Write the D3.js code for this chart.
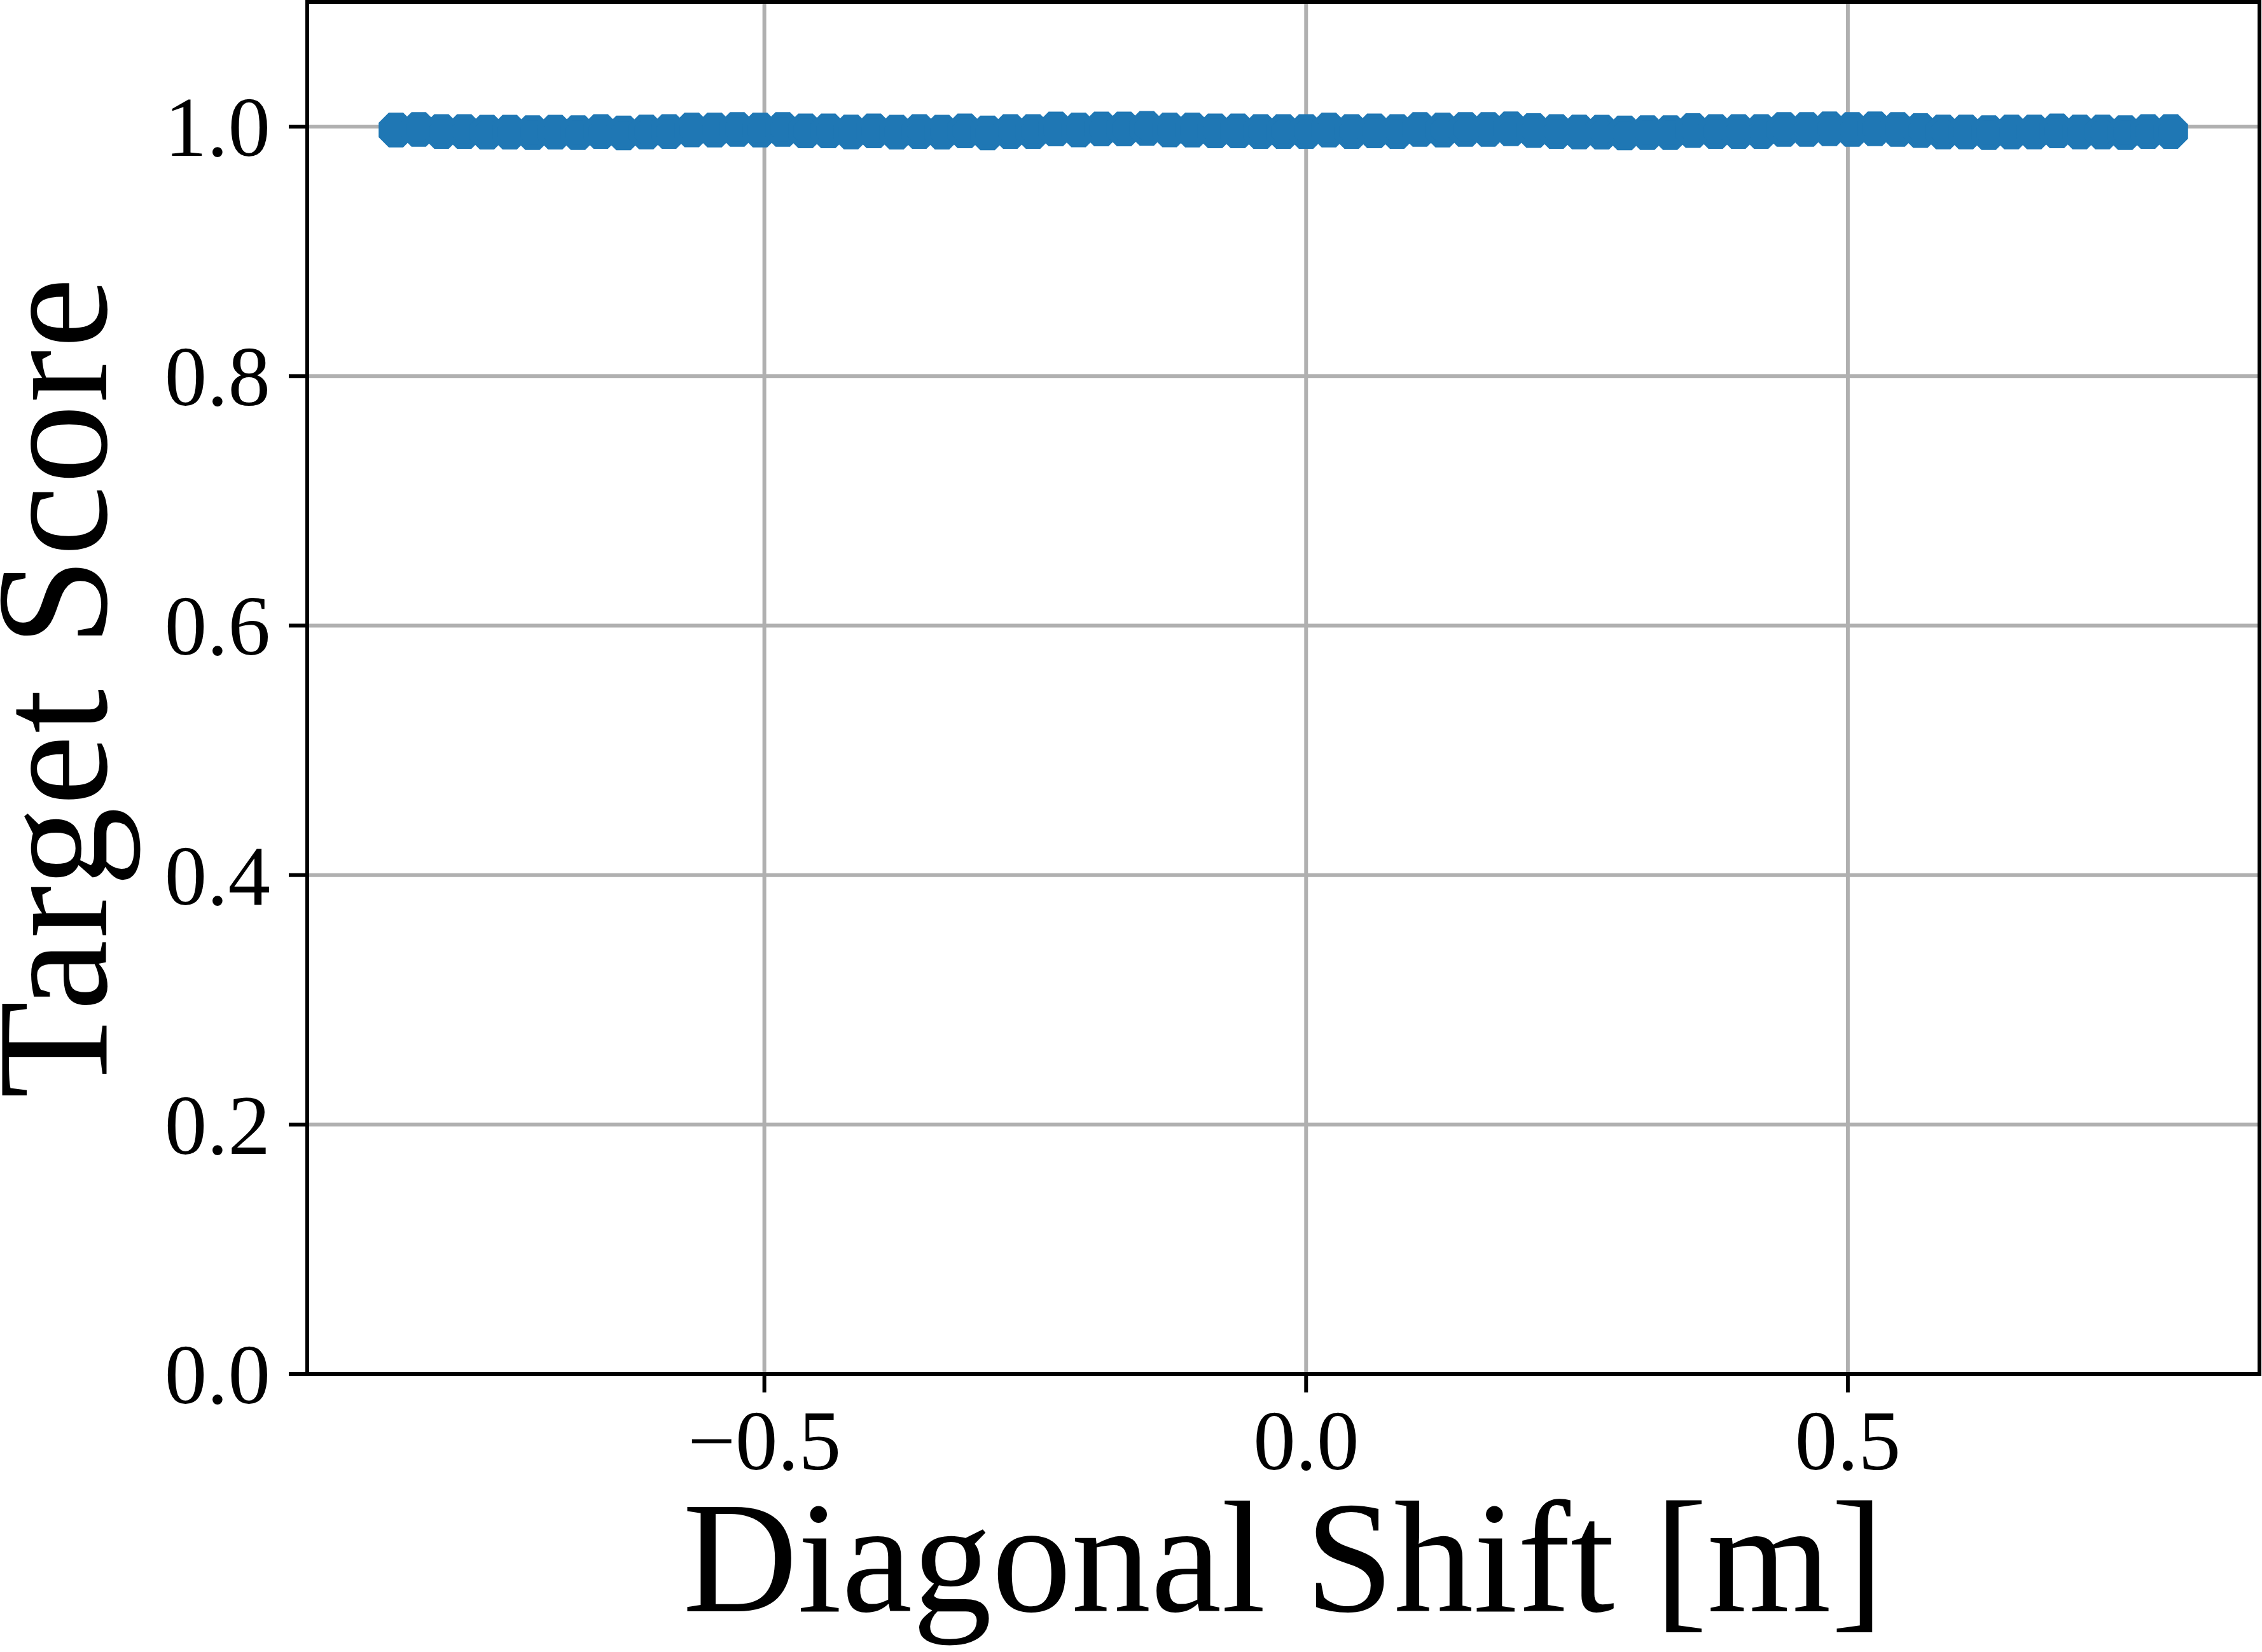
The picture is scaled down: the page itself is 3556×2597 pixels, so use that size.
<!DOCTYPE html>
<html lang="en">
<head>
    <meta charset="UTF-8">
    <title>Target Score vs Diagonal Shift</title>
    <script src="https://d3js.org/d3.v7.min.js"></script>
    <style>
    body { margin: 0; background: #fff; }
    text { font-family: "Liberation Serif", "DejaVu Serif", serif; fill: #000; }
    .grid line { stroke: #b0b0b0; stroke-width: 6px; }
    .spine { fill: none; stroke: #000; stroke-width: 6px; }
    .tick-mark { stroke: #000; stroke-width: 6px; }
  </style>
</head>
<body>
<div id="chart"></div>
<script>
// diagonal shift [m]
const shifts = [
  -0.840, -0.819, -0.798, -0.777, -0.756, -0.735, -0.714, -0.693, -0.672, -0.651,
  -0.630, -0.609, -0.588, -0.567, -0.546, -0.525, -0.504, -0.483, -0.462, -0.441,
  -0.420, -0.399, -0.378, -0.357, -0.336, -0.315, -0.294, -0.273, -0.252, -0.231,
  -0.210, -0.189, -0.168, -0.147, -0.126, -0.105, -0.084, -0.063, -0.042, -0.021,
   0.000,  0.021,  0.042,  0.063,  0.084,  0.105,  0.126,  0.147,  0.168,  0.189,
   0.210,  0.231,  0.252,  0.273,  0.294,  0.315,  0.336,  0.357,  0.378,  0.399,
   0.420,  0.441,  0.462,  0.483,  0.504,  0.525,  0.546,  0.567,  0.588,  0.609,
   0.630,  0.651,  0.672,  0.693,  0.714,  0.735,  0.756,  0.777,  0.798
];

// target score at each shift
const scores = [
  0.9973, 0.9978, 0.9961, 0.9961, 0.9956, 0.9956, 0.9952, 0.9956, 0.9952, 0.9961,
  0.9949, 0.9957, 0.9961, 0.9974, 0.9973, 0.9978, 0.9973, 0.9978, 0.9966, 0.9966,
  0.9957, 0.9966, 0.9956, 0.9961, 0.9956, 0.9966, 0.9950, 0.9961, 0.9961, 0.9981,
  0.9974, 0.9981, 0.9981, 0.9986, 0.9974, 0.9973, 0.9966, 0.9966, 0.9961, 0.9961,
  0.9961, 0.9973, 0.9961, 0.9966, 0.9961, 0.9978, 0.9973, 0.9978, 0.9978, 0.9983,
  0.9969, 0.9961, 0.9957, 0.9956, 0.9949, 0.9952, 0.9952, 0.9969, 0.9961, 0.9961,
  0.9961, 0.9978, 0.9978, 0.9983, 0.9978, 0.9983, 0.9978, 0.9969, 0.9957, 0.9957,
  0.9952, 0.9957, 0.9957, 0.9966, 0.9957, 0.9957, 0.9952, 0.9961, 0.9961
];

const xTicks = [-0.5, 0.0, 0.5];
const xTickLabels = ["\u22120.5", "0.0", "0.5"];
const yTicks = [0.0, 0.2, 0.4, 0.6, 0.8, 1.0];
const yTickLabels = ["0.0", "0.2", "0.4", "0.6", "0.8", "1.0"];
const yLimits = [0, 1.1];

const width = 3556;
const height = 2597;
const margin = {top: 3, right: 4, bottom: 437, left: 483};

const tickLen = 29;
const tickPad = 29;
const tickFont = 133;
const labelFont = 250;
const color = "#1f77b4";

const data = shifts.map((s, i) => ({x: s, y: scores[i]}));

// matplotlib style 5% margins on x
const ext = d3.extent(shifts);
const pad = (ext[1] - ext[0]) * 0.05;

const x = d3.scaleLinear()
    .domain([ext[0] - pad, ext[1] + pad])
    .range([margin.left, width - margin.right]);

const y = d3.scaleLinear()
    .domain(yLimits)
    .range([height - margin.bottom, margin.top]);

const svg = d3.select("#chart")
    .append("svg")
    .attr("width", width)
    .attr("height", height);

const x0 = x.range()[0], x1 = x.range()[1];
const y0 = y.range()[0], y1 = y.range()[1];

// grid
const grid = svg.append("g").attr("class", "grid");
grid.selectAll("line.gx")
    .data(xTicks)
    .enter()
    .append("line")
    .attr("x1", d => x(d)).attr("x2", d => x(d))
    .attr("y1", y0).attr("y2", y1);
grid.selectAll("line.gy")
    .data(yTicks)
    .enter()
    .append("line")
    .attr("x1", x0).attr("x2", x1)
    .attr("y1", d => y(d)).attr("y2", d => y(d));

// connecting line (hidden under the markers)
svg.append("path")
    .datum(data)
    .attr("fill", "none")
    .attr("stroke", color)
    .attr("stroke-width", 12.5)
    .attr("d", d3.line().x(d => x(d.x)).y(d => y(d.y)));

// octagon markers, flat side up
const R = 25;
const octagon = d3.range(8).map(k => {
    const a = (22.5 + 45 * k) * Math.PI / 180;
    return [R * Math.cos(a), R * Math.sin(a)];
});
const octPath = "M" + octagon.map(p => p.join(",")).join("L") + "Z";

svg.append("g")
    .selectAll("path")
    .data(data)
    .enter()
    .append("path")
    .attr("d", octPath)
    .attr("transform", d => `translate(${x(d.x)},${y(d.y)})`)
    .attr("fill", color)
    .attr("stroke", color)
    .attr("stroke-width", 8.33)
    .attr("stroke-linejoin", "miter");

// spines
svg.append("rect")
    .attr("class", "spine")
    .attr("x", x0).attr("y", y1)
    .attr("width", x1 - x0).attr("height", y0 - y1);

// x ticks
const xt = svg.append("g")
    .selectAll("g")
    .data(xTicks)
    .enter()
    .append("g")
    .attr("transform", d => `translate(${x(d)},${y0})`);
xt.append("line")
    .attr("class", "tick-mark")
    .attr("y1", 0).attr("y2", tickLen);
xt.append("text")
    .attr("y", tickLen + tickPad + 0.69 * tickFont)
    .attr("text-anchor", "middle")
    .attr("font-size", tickFont)
    .text((d, i) => xTickLabels[i]);

// y ticks
const yt = svg.append("g")
    .selectAll("g")
    .data(yTicks)
    .enter()
    .append("g")
    .attr("transform", d => `translate(${x0},${y(d)})`);
yt.append("line")
    .attr("class", "tick-mark")
    .attr("x1", 0).attr("x2", -tickLen);
yt.append("text")
    .attr("x", -(tickLen + tickPad))
    .attr("y", 0.345 * tickFont)
    .attr("text-anchor", "end")
    .attr("font-size", tickFont)
    .text((d, i) => yTickLabels[i]);

// axis labels
svg.append("text")
    .attr("x", (x0 + x1) / 2)
    .attr("y", 2533)
    .attr("text-anchor", "middle")
    .attr("font-size", labelFont)
    .text("Diagonal Shift [m]");

svg.append("text")
    .attr("transform", `translate(167,${(y0 + y1) / 2}) rotate(-90)`)
    .attr("text-anchor", "middle")
    .attr("font-size", labelFont)
    .attr("textLength", 1290)
    .attr("lengthAdjust", "spacing")
    .text("Target Score");
</script>
</body>
</html>
